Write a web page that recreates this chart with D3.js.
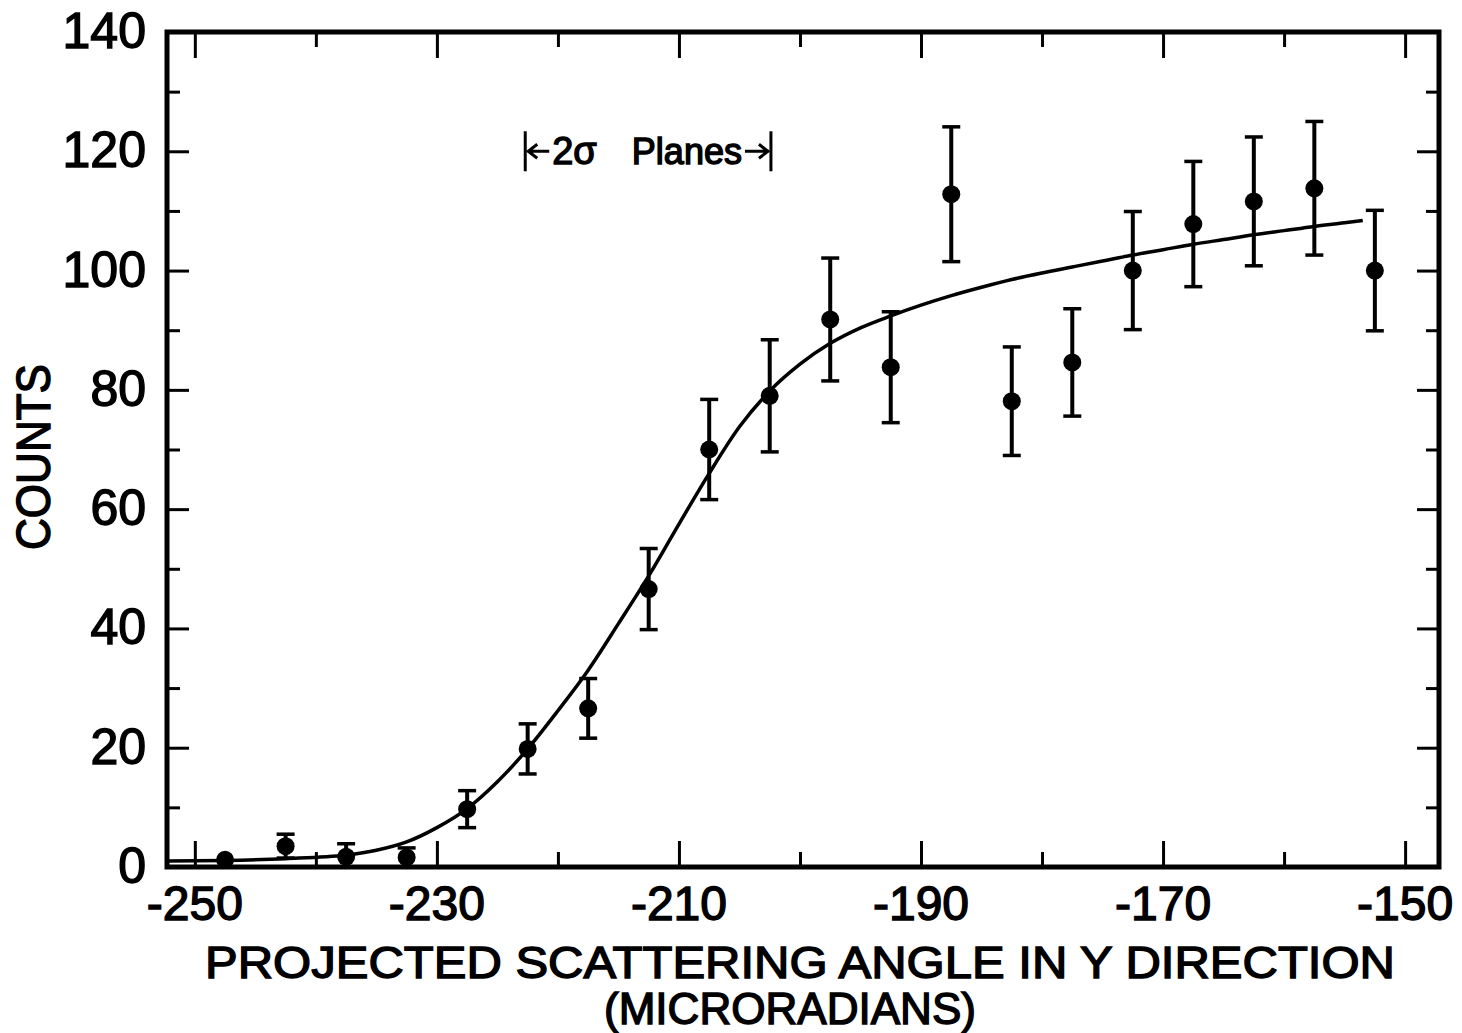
<!DOCTYPE html>
<html>
<head>
<meta charset="utf-8">
<script src="https://cdn.jsdelivr.net/npm/d3@7"></script>
<style>
  body { margin: 0; background: #fff; }
  text { font-family: "Liberation Sans", Arial, sans-serif; fill: #000; stroke: #000; stroke-width: 1.4; }
</style>
</head>
<body>
<script>
var width = 1462;
var height = 1033;

// measured points (microradians, counts, +/- error)
var angles = [-247.5, -242.5, -237.5, -232.5, -227.5, -222.5, -217.5, -212.5, -207.5, -202.5,
              -197.5, -192.5, -187.5, -182.5, -177.5, -172.5, -167.5, -162.5, -157.5, -152.5];
var counts = [1.2, 3.5, 1.7, 1.6, 9.7, 19.8, 26.6, 46.6, 70.0, 79.0,
              91.8, 83.8, 112.8, 78.1, 84.6, 100.0, 107.8, 111.6, 113.8, 100.0];
var errors = [0, 2.0, 2.2, 1.6, 3.1, 4.2, 5.0, 6.8, 8.4, 9.4,
              10.3, 9.3, 11.3, 9.1, 9.0, 9.9, 10.5, 10.8, 11.2, 10.1];

// fitted curve
var fitX = [-252.3, -247.5, -242.5, -237.5, -235, -232.5, -230, -227.5, -225, -222.5, -220, -217.5,
            -215, -212.5, -210, -207.5, -205, -202.5, -200, -197.5, -195, -192.5, -190, -187.5,
            -185, -182.5, -180, -177.5, -175, -172.5, -170, -167.5, -165, -162.5, -160, -157.5,
            -155, -153.5];
var fitY = [1.0, 1.1, 1.4, 2.0, 2.8, 4.2, 6.6, 9.8, 14.3, 19.8, 26.2, 33.0,
            40.8, 48.8, 57.5, 66.0, 73.8, 79.8, 84.3, 87.8, 90.4, 92.4, 94.2, 95.8,
            97.2, 98.5, 99.6, 100.6, 101.6, 102.6, 103.5, 104.4, 105.2, 106.0, 106.7, 107.4,
            108.0, 108.4];

var xMajor = [-250, -230, -210, -190, -170, -150];
var xMinor = [-240, -220, -200, -180, -160];
var yMajor = [0, 20, 40, 60, 80, 100, 120, 140];
var yMinor = [10, 30, 50, 70, 90, 110, 130];

// "|<- 2 sigma Planes ->|" marker
var planeLeft = -222.7;
var planeRight = -202.4;
var planeY = 120;

var x = d3.scaleLinear().domain([-252.3, -147.2]).range([167, 1439]);
var y = d3.scaleLinear().domain([0, 140]).range([867, 32]);

var svg = d3.select("body")
            .append("svg")
            .attr("width", width)
            .attr("height", height);

// ticks on all four sides, pointing inward
function tickAxis(axis, vals, size, transform) {
  var g = svg.append("g")
    .attr("transform", transform)
    .call(axis.tickValues(vals).tickSize(size).tickFormat(""));
  g.select(".domain").remove();
  g.selectAll(".tick line").attr("stroke", "#000").attr("stroke-width", 3);
  return g;
}
tickAxis(d3.axisBottom(x), xMajor, -26, "translate(0," + y(0) + ")");
tickAxis(d3.axisBottom(x), xMinor, -15, "translate(0," + y(0) + ")");
tickAxis(d3.axisTop(x), xMajor, -26, "translate(0," + y(140) + ")");
tickAxis(d3.axisTop(x), xMinor, -15, "translate(0," + y(140) + ")");
tickAxis(d3.axisLeft(y), yMajor, -22, "translate(" + x.range()[0] + ",0)");
tickAxis(d3.axisLeft(y), yMinor, -13, "translate(" + x.range()[0] + ",0)");
tickAxis(d3.axisRight(y), yMajor, -22, "translate(" + x.range()[1] + ",0)");
tickAxis(d3.axisRight(y), yMinor, -13, "translate(" + x.range()[1] + ",0)");

svg.append("rect")
  .attr("x", x.range()[0])
  .attr("y", y(140))
  .attr("width", x.range()[1] - x.range()[0])
  .attr("height", y(0) - y(140))
  .attr("fill", "none")
  .attr("stroke", "#000")
  .attr("stroke-width", 5);

// tick labels
svg.selectAll("text.xlab")
  .data(xMajor)
  .enter().append("text")
  .attr("class", "xlab")
  .attr("x", function(d) { return x(d); })
  .attr("y", 920)
  .attr("text-anchor", "middle")
  .attr("font-size", 48)
  .text(function(d) { return "-" + Math.abs(d); });

svg.selectAll("text.ylab")
  .data(yMajor)
  .enter().append("text")
  .attr("class", "ylab")
  .attr("x", 146)
  .attr("y", function(d) { return y(d) + 16; })
  .attr("text-anchor", "end")
  .attr("font-size", 50)
  .text(function(d) { return d; });

// axis titles
svg.append("text")
  .attr("x", 800)
  .attr("y", 978)
  .attr("text-anchor", "middle")
  .attr("font-size", 45)
  .attr("textLength", 1190)
  .attr("lengthAdjust", "spacingAndGlyphs")
  .text("PROJECTED SCATTERING ANGLE IN Y DIRECTION");

svg.append("text")
  .attr("x", 790)
  .attr("y", 1024)
  .attr("text-anchor", "middle")
  .attr("font-size", 44)
  .attr("textLength", 372)
  .attr("lengthAdjust", "spacingAndGlyphs")
  .text("(MICRORADIANS)");

svg.append("text")
  .attr("transform", "translate(50,457) rotate(-90)")
  .attr("text-anchor", "middle")
  .attr("font-size", 48)
  .attr("textLength", 186)
  .attr("lengthAdjust", "spacingAndGlyphs")
  .text("COUNTS");

// fitted curve
var line = d3.line()
  .x(function(d) { return x(d[0]); })
  .y(function(d) { return y(d[1]); })
  .curve(d3.curveMonotoneX);

svg.append("path")
  .datum(d3.zip(fitX, fitY))
  .attr("d", line)
  .attr("fill", "none")
  .attr("stroke", "#000")
  .attr("stroke-width", 3.5);

// error bars + points
var pts = d3.zip(angles, counts, errors);
var bars = svg.selectAll("g.pt")
  .data(pts.filter(function(d) { return d[2] > 0; }))
  .enter().append("g")
  .attr("class", "pt");

bars.append("line")
  .attr("x1", function(d) { return x(d[0]); })
  .attr("x2", function(d) { return x(d[0]); })
  .attr("y1", function(d) { return y(Math.max(0, d[1] - d[2])); })
  .attr("y2", function(d) { return y(d[1] + d[2]); })
  .attr("stroke", "#000")
  .attr("stroke-width", 4);

bars.append("line")
  .attr("x1", function(d) { return x(d[0]) - 9; })
  .attr("x2", function(d) { return x(d[0]) + 9; })
  .attr("y1", function(d) { return y(d[1] + d[2]); })
  .attr("y2", function(d) { return y(d[1] + d[2]); })
  .attr("stroke", "#000")
  .attr("stroke-width", 3.5);

bars.filter(function(d) { return d[1] - d[2] > 0.5; })
  .append("line")
  .attr("x1", function(d) { return x(d[0]) - 9; })
  .attr("x2", function(d) { return x(d[0]) + 9; })
  .attr("y1", function(d) { return y(d[1] - d[2]); })
  .attr("y2", function(d) { return y(d[1] - d[2]); })
  .attr("stroke", "#000")
  .attr("stroke-width", 3.5);

svg.selectAll("circle.pt")
  .data(pts)
  .enter().append("circle")
  .attr("class", "pt")
  .attr("cx", function(d) { return x(d[0]); })
  .attr("cy", function(d) { return y(d[1]); })
  .attr("r", 9)
  .attr("fill", "#000");

// 2 sigma planes marker
var pl = x(planeLeft), pr = x(planeRight), py = y(planeY);
var mark = svg.append("g")
  .attr("fill", "none")
  .attr("stroke", "#000")
  .attr("stroke-width", 3);
mark.append("line").attr("x1", pl).attr("x2", pl).attr("y1", py - 20).attr("y2", py + 20);
mark.append("line").attr("x1", pr).attr("x2", pr).attr("y1", py - 20).attr("y2", py + 20);
mark.append("path").attr("d", "M" + (pl + 2) + "," + py + "H" + (pl + 24) +
  "M" + (pl + 12) + "," + (py - 7) + "L" + (pl + 3) + "," + py + "L" + (pl + 12) + "," + (py + 7));
mark.append("path").attr("d", "M" + (pr - 2) + "," + py + "H" + (pr - 26) +
  "M" + (pr - 12) + "," + (py - 7) + "L" + (pr - 3) + "," + py + "L" + (pr - 12) + "," + (py + 7));

svg.append("text")
  .attr("x", pl + 27)
  .attr("y", py + 13)
  .attr("font-size", 38)
  .text("2σ");

svg.append("text")
  .attr("x", pr - 29)
  .attr("y", py + 13)
  .attr("text-anchor", "end")
  .attr("font-size", 36)
  .text("Planes");
</script>
</body>
</html>
